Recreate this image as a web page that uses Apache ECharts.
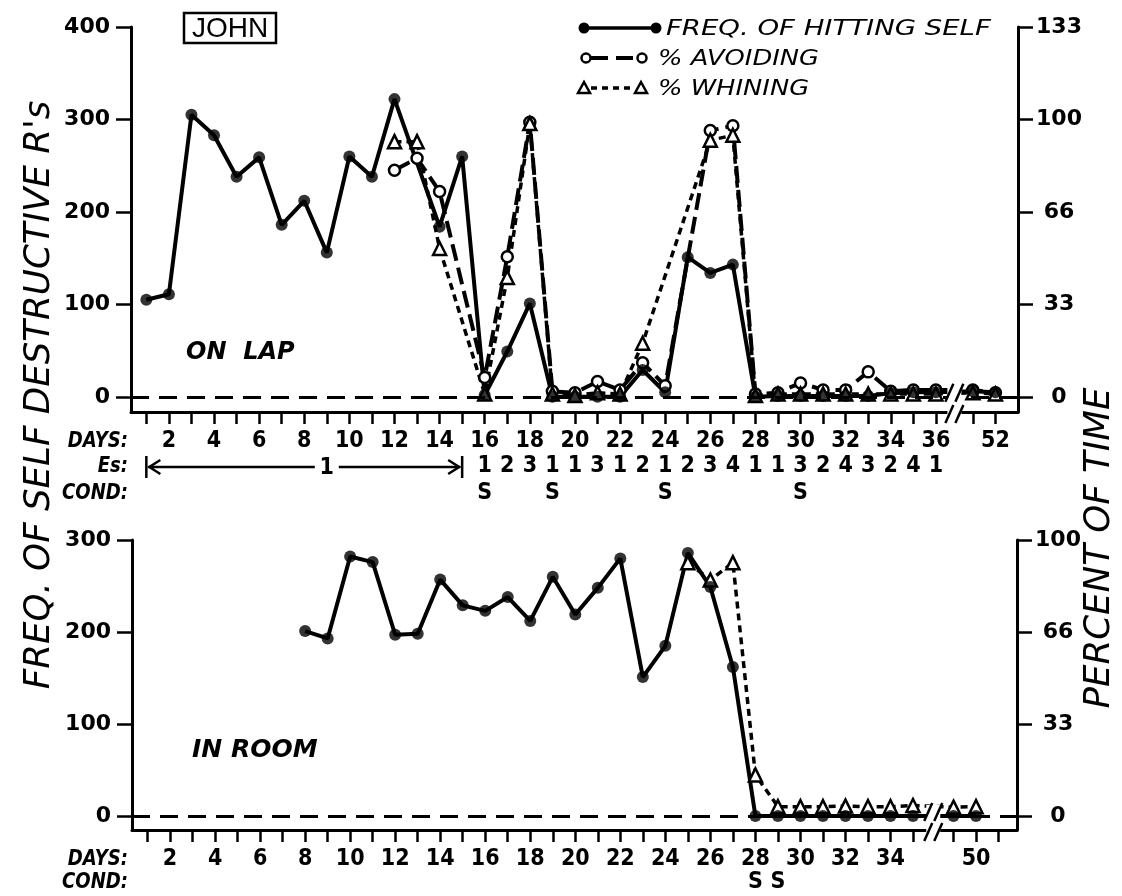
<!DOCTYPE html>
<html>
<head>
<meta charset="utf-8">
<script src="https://cdn.jsdelivr.net/npm/echarts@6/dist/echarts.min.js"></script>
<style>
  html, body { margin: 0; padding: 0; background: #fff; }
  #chart { width: 1122px; height: 896px; }
</style>
</head>
<body>
<div id="chart"></div>
<script>
// ---------- ON LAP panel ----------
const LAP_DAYS = [1,2,3,4,5,6,7,8,9,10,11,12,13,14,15,16,17,18,19,20,21,22,23,24,25,26,27,28,29,30,31,32,33,34,35,36,51,52];
const LAP_HITTING = [105,111,305,283,238,259,186,212,156,260,238,322,null,184,260,2,49,101,0,0,0,0,29,5,151,134,143,0,1,1,1,1,1,4,5,5,6,5];
const LAP_AVOIDING = [null,null,null,null,null,null,null,null,null,null,null,81.7,86,74,null,7,50.5,99,2,1.5,5.5,2.5,12.3,4,null,96,97.7,1,1.5,5,2.5,2.5,9,2,2.5,2.5,2.5,1.5];
const LAP_WHINING = [null,null,null,null,null,null,null,null,null,null,null,92,92,53.5,null,1,43,98.5,1,0.5,1.5,1,19.3,null,null,92.5,94.3,0.5,1,1,1,1,1,1,1,1,1.5,1];
const LAP_DAY_LABELS = [2,4,6,8,10,12,14,16,18,20,22,24,26,28,30,32,34,36,52];
const ES_DAYS = [16,17,18,19,20,21,22,23,24,25,26,27,28,29,30,31,32,33,34,35,36];
const ES_VALUES = [1,2,3,1,1,3,1,2,1,2,3,4,1,1,3,2,4,3,2,4,1];
const LAP_COND_DAYS = [16,19,24,30];
const LAP_COUNT_TICKS = [0,100,200,300,400];

// ---------- IN ROOM panel ----------
const ROOM_DAYS = [8,9,10,11,12,13,14,15,16,17,18,19,20,21,22,23,24,25,26,27,28,29,30,31,32,33,34,35,49,50];
const ROOM_HITTING = [201,193,282,276,197,198,257,229,223,238,212,260,219,248,280,151,185,286,249,162,0,0,0,0,0,0,0,0,0,0];
const ROOM_WHINING = [null,null,null,null,null,null,null,null,null,null,null,null,null,null,null,null,null,91.8,85.5,91.8,14.9,3.4,3.4,3.4,3.6,3.4,3.4,3.8,3.2,3.4];
const ROOM_DAY_LABELS = [2,4,6,8,10,12,14,16,18,20,22,24,26,28,30,32,34,50];
const ROOM_COND_DAYS = [28,29];
const ROOM_COUNT_TICKS = [0,100,200,300];

// Broken day axes: days after the break sit just past the last regular day
const lapPos = d => (d <= 36 ? d : 37.64 + (d - 51));
const roomPos = d => (d <= 35 ? d : 36.8 + (d - 49));
const LAP_TICK_DAYS = Array.from({ length: 36 }, (_, i) => i + 1).concat([51, 52]);
const ROOM_TICK_DAYS = Array.from({ length: 35 }, (_, i) => i + 1).concat([49, 50, 51]);

const LAP_X = [0.32, 39.64], ROOM_X = [0.31, 39.62];
const LAP_Y = [-16.4, 400], ROOM_Y = [-15.2, 300];

const FONT_NUM = "'DejaVu Sans', 'Liberation Sans', sans-serif";
const FONT_NARROW = "'Liberation Sans Narrow', 'DejaVu Sans Condensed', 'Liberation Sans', sans-serif";
const BLACK = '#000';

const key = v => Number(v).toFixed(2);
function labelMap(days, texts, pos) {
  const m = {};
  days.forEach((d, i) => { m[key(pos(d))] = String(texts[i]); });
  return m;
}
function pairs(days, vals, pos) {
  const out = [];
  days.forEach((d, i) => { if (vals[i] != null) out.push([pos(d), vals[i]]); });
  return out;
}

function dayAxis(grid, range, tickDays, labelDays, pos) {
  const m = labelMap(labelDays, labelDays, pos);
  return {
    type: 'value', gridIndex: grid, min: range[0], max: range[1], position: 'bottom',
    axisLine: { show: true, onZero: false, lineStyle: { color: BLACK, width: 3 } },
    axisTick: { show: true, inside: false, length: 12, customValues: tickDays.map(pos), lineStyle: { color: BLACK, width: 2.5 } },
    axisLabel: { show: true, margin: 18, customValues: labelDays.map(pos), formatter: v => m[key(v)] || '',
      color: BLACK, fontFamily: FONT_NARROW, fontSize: 23, fontWeight: 'bold' },
    splitLine: { show: false }
  };
}
function rowAxis(grid, range, offset, days, texts, pos) {
  const m = labelMap(days, texts, pos);
  return {
    type: 'value', gridIndex: grid, min: range[0], max: range[1], position: 'bottom', offset,
    axisLine: { show: false, onZero: false }, axisTick: { show: false }, splitLine: { show: false },
    axisLabel: { show: true, margin: 18, customValues: days.map(pos), formatter: v => m[key(v)] || '',
      color: BLACK, fontFamily: FONT_NARROW, fontSize: 23, fontWeight: 'bold' }
  };
}
function countAxis(grid, range, ticks) {
  return {
    type: 'value', gridIndex: grid, position: 'left', min: range[0], max: range[1],
    axisLine: { show: true, onZero: false, lineStyle: { color: BLACK, width: 3 } },
    axisTick: { show: true, length: 15, customValues: ticks, lineStyle: { color: BLACK, width: 2.5 } },
    axisLabel: { customValues: ticks, margin: 21, formatter: v => String(Math.round(v)),
      color: BLACK, fontFamily: FONT_NUM, fontSize: 22, fontWeight: 'bold' },
    splitLine: { show: false }
  };
}
// percent of time: 100 % corresponds to 300 on the count scale
function percentAxis(grid, range, ticks) {
  return {
    type: 'value', gridIndex: grid, position: 'right', min: range[0] / 3, max: range[1] / 3,
    axisLine: { show: true, onZero: false, lineStyle: { color: BLACK, width: 3 } },
    axisTick: { show: true, length: 15, customValues: ticks.map(t => t / 3), lineStyle: { color: BLACK, width: 2.5 } },
    axisLabel: { customValues: ticks.map(t => t / 3), margin: 41, align: 'center', formatter: v => String(Math.floor(v + 1e-6)),
      color: BLACK, fontFamily: FONT_NUM, fontSize: 22, fontWeight: 'bold' },
    splitLine: { show: false }
  };
}

const zeroLine = {
  silent: true, symbol: 'none', label: { show: false },
  lineStyle: { type: [18, 10], color: BLACK, width: 3 },
  data: [{ yAxis: 0 }]
};
const hitLine = (x, y, data) => ({
  type: 'line', xAxisIndex: x, yAxisIndex: y, data, symbol: 'none', z: 2,
  lineStyle: { color: BLACK, width: 4 }, markLine: zeroLine
});
const hitDots = (x, y, data) => ({
  type: 'scatter', xAxisIndex: x, yAxisIndex: y, data, symbol: 'circle', symbolSize: 12, z: 6,
  itemStyle: { color: BLACK }
});
const openLine = (x, y, data, symbol, size, dash, width) => ({
  type: 'line', xAxisIndex: x, yAxisIndex: y, data, symbol, symbolSize: size, z: 4,
  itemStyle: { color: '#fff', borderColor: BLACK, borderWidth: 2.5 },
  lineStyle: { color: BLACK, width, type: dash }
});

const chart = echarts.init(document.getElementById('chart'), null, { renderer: 'canvas' });
chart.setOption({
  backgroundColor: '#fff',
  animation: false,
  grid: [
    { left: 131, right: 104, top: 27, bottom: 484, outerBoundsMode: 'none' },
    { left: 132, right: 105, top: 540, bottom: 66, outerBoundsMode: 'none' }
  ],
  xAxis: [
    dayAxis(0, LAP_X, LAP_TICK_DAYS, LAP_DAY_LABELS, lapPos),
    rowAxis(0, LAP_X, 25, ES_DAYS, ES_VALUES, lapPos),
    rowAxis(0, LAP_X, 52, LAP_COND_DAYS, LAP_COND_DAYS.map(() => 'S'), lapPos),
    dayAxis(1, ROOM_X, ROOM_TICK_DAYS, ROOM_DAY_LABELS, roomPos),
    rowAxis(1, ROOM_X, 23, ROOM_COND_DAYS, ROOM_COND_DAYS.map(() => 'S'), roomPos)
  ],
  yAxis: [
    countAxis(0, LAP_Y, LAP_COUNT_TICKS),
    percentAxis(0, LAP_Y, LAP_COUNT_TICKS),
    countAxis(1, ROOM_Y, ROOM_COUNT_TICKS),
    percentAxis(1, ROOM_Y, ROOM_COUNT_TICKS)
  ],
  series: [
    hitLine(0, 0, pairs(LAP_DAYS, LAP_HITTING, lapPos)),
    openLine(0, 1, pairs(LAP_DAYS, LAP_AVOIDING, lapPos), 'circle', 11, [17, 7], 4),
    openLine(0, 1, pairs(LAP_DAYS, LAP_WHINING, lapPos), 'triangle', 13, [7, 5], 3.5),
    hitDots(0, 0, pairs(LAP_DAYS, LAP_HITTING, lapPos)),
    hitLine(3, 2, pairs(ROOM_DAYS, ROOM_HITTING, roomPos)),
    openLine(3, 3, pairs(ROOM_DAYS, ROOM_WHINING, roomPos), 'triangle', 13, [7, 5], 3.5),
    hitDots(3, 2, pairs(ROOM_DAYS, ROOM_HITTING, roomPos))
  ]
});

// ---------- annotations placed from the axes ----------
const toPx = (seriesIndex, x, y) => chart.convertToPixel({ seriesIndex }, [x, y]);
const stroke = (w) => ({ stroke: BLACK, lineWidth: w, fill: null });

function breakMark(cx, cy) {
  return [
    { type: 'rect', shape: { x: cx - 7, y: cy - 7, width: 14, height: 14 }, style: { fill: '#fff' }, z: 100 },
    { type: 'line', shape: { x1: cx - 9, y1: cy + 9, x2: cx - 1, y2: cy - 9 }, style: stroke(2.5), z: 101 },
    { type: 'line', shape: { x1: cx + 1, y1: cy + 9, x2: cx + 9, y2: cy - 9 }, style: stroke(2.5), z: 101 }
  ];
}
function text(x, y, str, font, align, extra) {
  return Object.assign({
    type: 'text', x, y, z: 110,
    style: { text: str, font, fill: BLACK, align: align || 'left', verticalAlign: 'middle' }
  }, extra || {});
}

const g = [];
// axis breaks
{
  const p0 = toPx(0, (36 + lapPos(51)) / 2, 0);
  const pa = toPx(0, (36 + lapPos(51)) / 2, LAP_Y[0]);
  g.push(...breakMark(p0[0], p0[1] - 4), ...breakMark(pa[0], pa[1] + 2));
  const q0 = toPx(4, (35 + roomPos(49)) / 2, 0);
  const qa = toPx(4, (35 + roomPos(49)) / 2, ROOM_Y[0]);
  g.push(...breakMark(q0[0], q0[1] - 4), ...breakMark(qa[0], qa[1] + 2));
}
// row captions
const CAP_FONT = "italic bold 21px " + FONT_NUM;
const CAP = { scaleX: 0.86 };
const lapAxisY = toPx(0, 1, LAP_Y[0])[1];
const roomAxisY = toPx(4, 1, ROOM_Y[0])[1];
g.push(text(128, lapAxisY + 30, 'DAYS:', CAP_FONT, 'right', CAP));
g.push(text(128, lapAxisY + 55, 'Es:', CAP_FONT, 'right', CAP));
g.push(text(128, lapAxisY + 82, 'COND:', CAP_FONT, 'right', CAP));
g.push(text(128, roomAxisY + 30, 'DAYS:', CAP_FONT, 'right', CAP));
g.push(text(128, roomAxisY + 53, 'COND:', CAP_FONT, 'right', CAP));
// days 1-15 share E 1
{
  const y = lapAxisY + 55;
  const x1 = toPx(0, lapPos(1), 0)[0], x2 = toPx(0, lapPos(15), 0)[0], xm = toPx(0, lapPos(9), 0)[0];
  g.push({ type: 'line', shape: { x1, y1: y - 11, x2: x1, y2: y + 11 }, style: stroke(2.5) });
  g.push({ type: 'line', shape: { x1: x2, y1: y - 11, x2, y2: y + 11 }, style: stroke(2.5) });
  g.push({ type: 'line', shape: { x1: x1 + 2, y1: y, x2: xm - 12, y2: y }, style: stroke(2.5) });
  g.push({ type: 'line', shape: { x1: xm + 12, y1: y, x2: x2 - 2, y2: y }, style: stroke(2.5) });
  g.push({ type: 'polyline', shape: { points: [[x1 + 14, y - 7], [x1 + 3, y], [x1 + 14, y + 7]] }, style: stroke(2.5) });
  g.push({ type: 'polyline', shape: { points: [[x2 - 14, y - 7], [x2 - 3, y], [x2 - 14, y + 7]] }, style: stroke(2.5) });
  g.push(text(xm, y + 1, '1', "bold 23px " + FONT_NARROW, 'center'));
}
// axis titles, reading bottom to top
const TITLE_FONT = "italic 36px " + FONT_NARROW;
g.push(text(40, 395, "FREQ. OF SELF DESTRUCTIVE R's", TITLE_FONT, 'center', { rotation: Math.PI / 2, scaleX: 1.1 }));
g.push(text(1100, 548, 'PERCENT OF TIME', TITLE_FONT, 'center', { rotation: Math.PI / 2, scaleX: 1.1 }));
// subject box and panel names
g.push({ type: 'rect', shape: { x: 184, y: 13, width: 92, height: 30 }, style: { fill: null, stroke: BLACK, lineWidth: 2.5 } });
g.push(text(230, 29, 'JOHN', "28px 'Liberation Sans', sans-serif", 'center'));
g.push(text(186, 353, 'ON  LAP', "italic bold 24px " + FONT_NUM, 'left'));
g.push(text(192, 750, 'IN ROOM', "italic bold 25px " + FONT_NUM, 'left'));
// key
{
  const LEG_FONT = "italic 22px " + FONT_NUM;
  const LEG = { scaleX: 1.17 };
  g.push({ type: 'line', shape: { x1: 584, y1: 28, x2: 656, y2: 28 }, style: stroke(3.5) });
  g.push({ type: 'circle', shape: { cx: 584, cy: 28, r: 5.5 }, style: { fill: BLACK } });
  g.push({ type: 'circle', shape: { cx: 656, cy: 28, r: 5.5 }, style: { fill: BLACK } });
  g.push(text(666, 29, 'FREQ. OF HITTING SELF', LEG_FONT, 'left', { scaleX: 1.25 }));
  g.push({ type: 'line', shape: { x1: 591, y1: 58, x2: 637, y2: 58 }, style: { stroke: BLACK, lineWidth: 4, lineDash: [17, 8] } });
  g.push({ type: 'circle', shape: { cx: 586, cy: 58, r: 4.5 }, style: { fill: '#fff', stroke: BLACK, lineWidth: 2.5 } });
  g.push({ type: 'circle', shape: { cx: 642, cy: 58, r: 4.5 }, style: { fill: '#fff', stroke: BLACK, lineWidth: 2.5 } });
  g.push(text(658, 59, '% AVOIDING', LEG_FONT, 'left', LEG));
  g.push({ type: 'line', shape: { x1: 591, y1: 88, x2: 635, y2: 88 }, style: { stroke: BLACK, lineWidth: 3.5, lineDash: [6, 5] } });
  g.push({ type: 'polygon', shape: { points: [[584, 82], [578, 93], [590, 93]] }, style: { fill: '#fff', stroke: BLACK, lineWidth: 2.5 } });
  g.push({ type: 'polygon', shape: { points: [[641, 82], [635, 93], [647, 93]] }, style: { fill: '#fff', stroke: BLACK, lineWidth: 2.5 } });
  g.push(text(658, 89, '% WHINING', LEG_FONT, 'left', LEG));
}
chart.setOption({ graphic: { elements: g } });
</script>
</body>
</html>
